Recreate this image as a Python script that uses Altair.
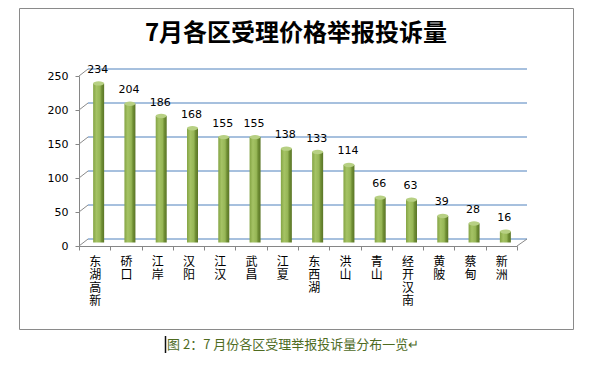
import altair as alt
import pandas as pd

# ---- data ----
districts = ["东湖高新", "硚口", "江岸", "汉阳", "江汉", "武昌", "江夏",
             "东西湖", "洪山", "青山", "经开汉南", "黄陂", "蔡甸", "新洲"]
counts = [234, 204, 186, 168, 155, 155, 138, 133, 114, 66, 63, 39, 28, 16]
y_ticks = [0, 50, 100, 150, 200, 250]
title_text = "7月各区受理价格举报投诉量"
caption_text = "图 2：7 月份各区受理举报投诉量分布一览↵"

df = pd.DataFrame({"district": districts, "count": counts})
grid = pd.DataFrame({"count": y_ticks})
floor = pd.DataFrame({"count": [0]})
one = pd.DataFrame({"k": [0]})

W, H = 438, 170
DX, DY = 9, -7          # depth of the 3-D box
BX, BY = 4, -3.5        # bars sit mid-depth

yscale = alt.Scale(domain=[0, 250], nice=False)
CJK = "Noto Sans CJK SC"

x_enc = alt.X("district:N", sort=districts,
              scale=alt.Scale(paddingInner=0, paddingOuter=0),
              axis=alt.Axis(title=None, labelAngle=0,
                            labelExpr="split(datum.label, '')",
                            labelLineHeight=13, labelFont=CJK,
                            labelFontSize=12, labelColor="#000",
                            labelBaseline="top", labelAlign="center",
                            labelPadding=6, tickSize=4,
                            tickColor="#868686", domainColor="#868686",
                            tickBand="extent"))
y_enc = alt.Y("count:Q", scale=yscale,
              axis=alt.Axis(title=None, values=y_ticks, grid=False,
                            labelFont="DejaVu Sans", labelFontSize=11,
                            labelColor="#000", tickSize=4,
                            tickColor="#868686", domainColor="#868686",
                            labelPadding=7))

frame = alt.Chart(one).mark_rect(fill="transparent", stroke="#8a8a8a",
                                 strokeWidth=1).encode(
    x=alt.value(-59.5), x2=alt.value(494.5),
    y=alt.value(-67.5), y2=alt.value(253.5))

gridlines = alt.Chart(grid).mark_rule(color="#4F81BD", strokeWidth=1,
                                      yOffset=DY).encode(
    x=alt.value(DX), x2=alt.value(W + 10), y=y_enc)

diag_left = alt.Chart(grid).mark_rule(color="#8a8a8a", strokeWidth=1,
                                      y2Offset=DY).encode(
    x=alt.value(0), x2=alt.value(DX), y=y_enc, y2="count:Q")

diag_right = alt.Chart(floor).mark_rule(color="#8a8a8a", strokeWidth=1,
                                        y2Offset=DY).encode(
    x=alt.value(W), x2=alt.value(W + 10), y=y_enc, y2="count:Q")

bar_grad = alt.Gradient(
    gradient="linear", x1=0, x2=1, y1=0, y2=0,
    stops=[alt.GradientStop(color="#84A444", offset=0),
           alt.GradientStop(color="#A5C365", offset=0.3),
           alt.GradientStop(color="#96B656", offset=0.62),
           alt.GradientStop(color="#6F8E34", offset=0.78),
           alt.GradientStop(color="#5A7527", offset=1)])

bars = alt.Chart(df).mark_bar(color=bar_grad, width=11, xOffset=BX,
                              yOffset=BY, y2Offset=BY).encode(
    x=x_enc, y=y_enc, y2=alt.datum(0))

caps = alt.Chart(df).mark_point(
    shape="M-1,0A1,0.4 0 1,1 1,0A1,0.4 0 1,1 -1,0Z",
    filled=True, size=121, color="#B7D083", opacity=1,
    xOffset=BX, yOffset=BY).encode(x=x_enc, y=y_enc)

labels = alt.Chart(df).mark_text(font="DejaVu Sans", fontSize=11,
                                 color="#000", baseline="middle",
                                 xOffset=BX - 1, yOffset=-17).encode(
    x=x_enc, y=y_enc, text="count:Q")

title = alt.Chart(one).mark_text(text=title_text, font=CJK, fontSize=24,
                                 fontWeight="bold", color="#000",
                                 align="center", baseline="middle").encode(
    x=alt.value(217), y=alt.value(-42))

caption = alt.Chart(one).mark_text(text=caption_text, font=CJK, fontSize=13,
                                   color="#4E6B1F", align="left",
                                   baseline="middle").encode(
    x=alt.value(88), y=alt.value(269))

cursor = alt.Chart(one).mark_rule(color="#111", strokeWidth=1.5).encode(
    x=alt.value(86.5), y=alt.value(260), y2=alt.value(277))

chart = alt.layer(frame, gridlines, diag_left, diag_right, bars, caps,
                  labels, title, caption, cursor).properties(
    width=W, height=H,
    autosize=alt.AutoSizeParams(type="none"),
    padding={"left": 71, "top": 68, "right": 70, "bottom": 117},
    background="white",
).configure_view(stroke=None)

chart.save("out.html", embed_options={"renderer": "svg", "actions": False})
